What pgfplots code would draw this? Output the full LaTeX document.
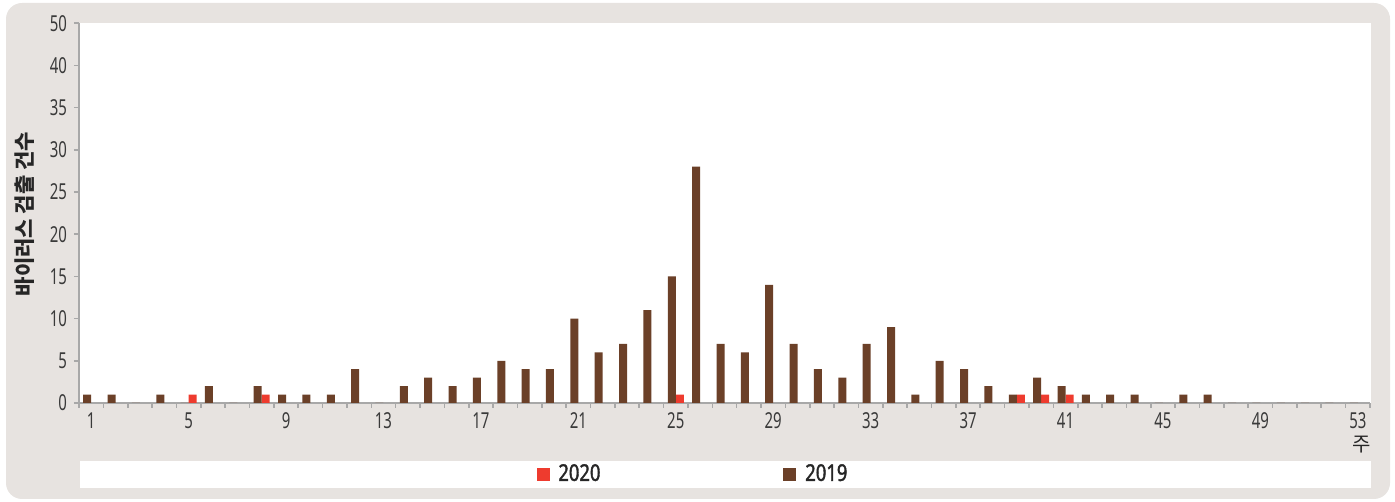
\documentclass[border=0pt]{standalone}
\usepackage{fontspec}
\usepackage{pgfplots}
\pgfplotsset{compat=1.18}
\setmainfont{Noto Sans}
\newfontfamily\numfont{Noto Sans}[FakeStretch=0.68]
\newfontfamily\legfont{Noto Sans}[FakeStretch=0.8, FakeBold=1.6]
\newfontfamily\kr{Noto Sans CJK KR}
\definecolor{bg}{HTML}{E7E3E0}
\definecolor{red20}{HTML}{EE3B2E}
\definecolor{brown19}{HTML}{6B4028}
\definecolor{axgrey}{HTML}{A8A8A8}
\definecolor{txt}{HTML}{3A3A3A}

\begin{document}
\begin{tikzpicture}[x=0.5pt,y=0.5pt]
\path (0,0) rectangle (1395,502);
\fill[bg, rounded corners=8pt] (6,3) rectangle (1390,499);
\fill[white] (79,99) rectangle (1371,479.3);
\fill[white] (80,14.3) rectangle (1371,41.3);
\begin{axis}[
  at={(39.5pt,49.5pt)}, anchor=south west,
  scale only axis, width=645.5pt, height=189.9pt,
  xmin=0.5, xmax=53.5, ymin=0, ymax=45,
  axis x line*=bottom, axis y line*=left,
  axis line style={axgrey, line width=1pt},
  tick style={axgrey, line width=0.8pt},
  tick align=outside,
  major tick length=2.5pt, minor tick length=2.5pt,
  ytick={0,5,...,45},
  yticklabels={0,5,10,15,20,25,30,35,40,50},
  xtick={1,5,...,53},
  minor xtick={0.5,1.5,...,53.5},
  major x tick style={draw=none},
  /pgf/number format/assume math mode=true,
  ticklabel style={font=\numfont\fontsize{11}{11}\selectfont, text=txt},
  xticklabel style={yshift=1pt},
  ylabel={\kr\bfseries 바이러스 검출 건수},
  ylabel style={at={(axis description cs:-0.0418,0.4976)}, anchor=center, font=\fontsize{10.5}{11}\selectfont, text=black!85},
  xlabel={\kr 주},
  xlabel style={at={(axis description cs:0.9938,-0.11)}, anchor=center, font=\fontsize{10}{10}\selectfont, text=black!85},
  legend style={at={(0.4783,-0.187)}, anchor=center, draw=none, fill=none,
    font=\legfont\fontsize{11.5}{12}\selectfont, text=black!85,
    nodes={inner xsep=4.5pt},
    /tikz/every even column/.append style={column sep=87pt}},
  legend columns=2,
  legend image code/.code={\fill[#1] (0pt,-3pt) rectangle (6pt,3pt);},
]
\addplot[ybar, bar width=4pt, bar shift=2pt, fill=red20, draw=none, forget plot] table {
x y
5 1
8 1
25 1
39 1
40 1
41 1
};
\addplot[ybar, bar width=4pt, bar shift=-2pt, fill=brown19, draw=none, forget plot] table {
x y
1 1
2 1
3 0
4 1
5 0
6 2
7 0
8 2
9 1
10 1
11 1
12 4
13 0
14 2
15 3
16 2
17 3
18 5
19 4
20 4
21 10
22 6
23 7
24 11
25 15
26 28
27 7
28 6
29 14
30 7
31 4
32 3
33 7
34 9
35 1
36 5
37 4
38 2
39 1
40 3
41 2
42 1
43 1
44 1
45 0
46 1
47 1
48 0
49 0
50 0
51 0
52 0
53 0
};
\addlegendimage{red20}
\addlegendentry{2020}
\addlegendimage{brown19}
\addlegendentry{2019}
\end{axis}
\end{tikzpicture}
\end{document}
